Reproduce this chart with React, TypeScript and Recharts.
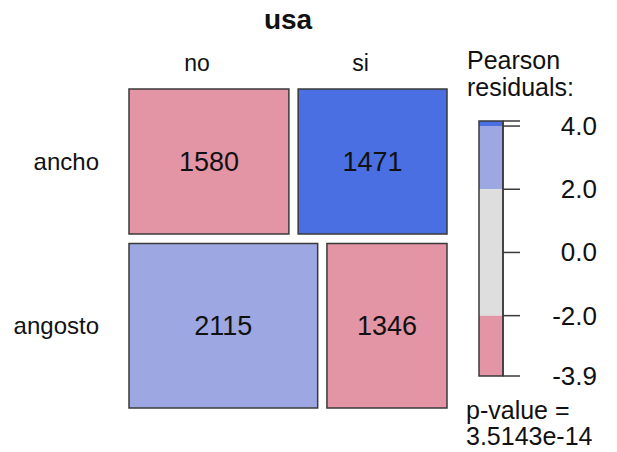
import React from 'react';
import { ComposedChart, XAxis, YAxis, ReferenceArea, Customized, Scatter } from 'recharts';

const title = 'usa';
const rowLabels = ['ancho', 'angosto'];
const colLabels = ['no', 'si'];
const countsNo = [1580, 2115];
const countsSi = [1471, 1346];
const legendTicks = [4.16, 4, 2, 0, -2, -3.91];
const legendTickLabels = ['', '4.0', '2.0', '0.0', '-2.0', '-3.9'];
const legendTitle = ['Pearson', 'residuals:'];
const pValueText = ['p-value =', '3.5143e-14'];

const GAP = 0.03;
const FONT = '"Liberation Sans", Arial, Helvetica, sans-serif';

const DARK_BLUE = '#4A6FE3';
const LIGHT_BLUE = '#9DA8E2';
const GREY = '#DEDEDE';
const PINK = '#E495A5';
const DARK_RED = '#D33F6A';

function shade(r: number) {
  if (r > 4) return DARK_BLUE;
  if (r > 2) return LIGHT_BLUE;
  if (r < -4) return DARK_RED;
  if (r < -2) return PINK;
  return GREY;
}

const rowTotals = rowLabels.map((_, i) => countsNo[i] + countsSi[i]);
const colTotals = [countsNo.reduce((a, b) => a + b, 0), countsSi.reduce((a, b) => a + b, 0)];
const grand = rowTotals[0] + rowTotals[1];

type Cell = { x1: number; x2: number; y1: number; y2: number; cx: number; cy: number; count: number; fill: string };
const cells: Cell[] = [];
const rowCenters: number[] = [];
let yStart = 0;
rowLabels.forEach((_, i) => {
  const h = rowTotals[i] / grand;
  const y1 = yStart;
  const y2 = yStart + h;
  rowCenters.push((y1 + y2) / 2);
  const counts = [countsNo[i], countsSi[i]];
  let xStart = 0;
  counts.forEach((c, j) => {
    const w = c / rowTotals[i];
    const expected = (rowTotals[i] * colTotals[j]) / grand;
    const resid = (c - expected) / Math.sqrt(expected);
    cells.push({ x1: xStart, x2: xStart + w, y1, y2, cx: xStart + w / 2, cy: (y1 + y2) / 2, count: c, fill: shade(resid) });
    xStart += w + GAP;
  });
  yStart += h + GAP;
});
const colCenters = cells.slice(0, 2).map((c) => c.cx);

const legendBands = [
  { y1: 4, y2: legendTicks[0], fill: DARK_BLUE },
  { y1: 2, y2: 4, fill: LIGHT_BLUE },
  { y1: -2, y2: 2, fill: GREY },
  { y1: legendTicks[legendTicks.length - 1], y2: -2, fill: PINK },
];
const legendPoints = legendBands.map((b) => ({ lx: 0.5, ly: (b.y1 + b.y2) / 2 }));

const W = 617;
const H = 452;

const LegendTick = (props: any) => {
  const { x, y, index } = props;
  return (
    <text x={x + 77} y={y} textAnchor="end" dominantBaseline="central" fontSize={26} fill="#111" fontFamily={FONT}>
      {legendTickLabels[index]}
    </text>
  );
};

const Titles = () => (
  <g fontFamily={FONT} fill="#111">
    <text x={288} y={29} textAnchor="middle" fontSize={28} fontWeight="bold">{title}</text>
    <text x={467} y={69} fontSize={25}>{legendTitle[0]}</text>
    <text x={467} y={96} fontSize={25}>{legendTitle[1]}</text>
    <text x={466} y={419} fontSize={25}>{pValueText[0]}</text>
    <text x={466} y={445} fontSize={25}>{pValueText[1]}</text>
  </g>
);

const Nothing = () => null;

export default function App() {
  return (
    <div style={{ position: 'absolute', left: 0, top: 0, width: W, height: H, background: '#fff', fontFamily: FONT }}>
      <div style={{ position: 'absolute', left: 0, top: 0 }}>
        <ComposedChart width={W} height={H} data={cells} margin={{ top: 59, left: 29, right: 170, bottom: 44 }}>
          <XAxis
            xAxisId="m"
            dataKey="cx"
            type="number"
            orientation="top"
            domain={[0, 1 + GAP]}
            allowDataOverflow
            ticks={colCenters}
            interval={0}
            tickFormatter={(v: number) => colLabels[colCenters.indexOf(v)] ?? ''}
            axisLine={false}
            tickLine={false}
            tickSize={0}
            tickMargin={18}
            height={30}
            tick={{ fontSize: 23, fill: '#111', dx: -12, fontFamily: FONT }}
          />
          <YAxis
            yAxisId="m"
            dataKey="cy"
            type="number"
            reversed
            domain={[0, 1 + GAP]}
            allowDataOverflow
            ticks={rowCenters}
            interval={0}
            tickFormatter={(v: number) => rowLabels[rowCenters.indexOf(v)] ?? ''}
            axisLine={false}
            tickLine={false}
            tickSize={0}
            tickMargin={30}
            width={100}
            tick={{ fontSize: 24, fill: '#111', fontFamily: FONT }}
          />
          <Scatter xAxisId="m" yAxisId="m" dataKey="cy" shape={<Nothing />} isAnimationActive={false} />
          {cells.map((c, i) => (
            <ReferenceArea
              key={i}
              xAxisId="m"
              yAxisId="m"
              x1={c.x1}
              x2={c.x2}
              y1={c.y1}
              y2={c.y2}
              fill={c.fill}
              fillOpacity={1}
              stroke="#3a3a3a"
              strokeWidth={1.5}
              ifOverflow="visible"
              label={{ value: String(c.count), position: 'center', fontSize: 27, fill: '#111', fontFamily: FONT }}
            />
          ))}
          <Customized component={Titles} />
        </ComposedChart>
      </div>
      <div style={{ position: 'absolute', left: 0, top: 0 }}>
        <ComposedChart width={W} height={H} data={legendPoints} margin={{ top: 121, left: 479, right: 4, bottom: 76 }}>
          <XAxis xAxisId="l" dataKey="lx" type="number" domain={[0, 1]} hide />
          <YAxis
            yAxisId="l"
            dataKey="ly"
            type="number"
            orientation="right"
            domain={[legendTicks[legendTicks.length - 1], legendTicks[0]]}
            allowDataOverflow
            ticks={legendTicks}
            interval={0}
            width={110}
            tickSize={17}
            tickMargin={0}
            axisLine={{ stroke: '#3a3a3a', strokeWidth: 1.5 }}
            tickLine={{ stroke: '#3a3a3a', strokeWidth: 1.5 }}
            tick={<LegendTick />}
          />
          <Scatter xAxisId="l" yAxisId="l" dataKey="ly" shape={<Nothing />} isAnimationActive={false} />
          {legendBands.map((b, i) => (
            <ReferenceArea
              key={i}
              xAxisId="l"
              yAxisId="l"
              x1={0}
              x2={1}
              y1={b.y1}
              y2={b.y2}
              fill={b.fill}
              fillOpacity={1}
              stroke="none"
              ifOverflow="visible"
            />
          ))}
          <ReferenceArea
            xAxisId="l"
            yAxisId="l"
            x1={0}
            x2={1}
            y1={legendTicks[legendTicks.length - 1]}
            y2={legendTicks[0]}
            fill="none"
            stroke="#3a3a3a"
            strokeWidth={1.5}
            ifOverflow="visible"
          />
        </ComposedChart>
      </div>
    </div>
  );
}
